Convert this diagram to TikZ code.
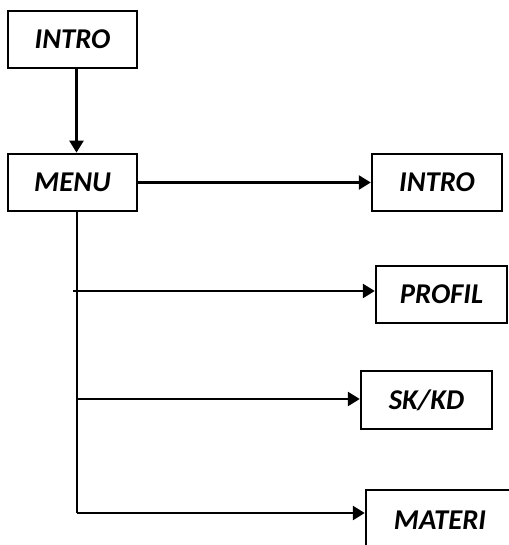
\documentclass[tikz,border=0pt]{standalone}
\usepackage{fontspec}
\setmainfont{Carlito}
\usetikzlibrary{arrows.meta,positioning}
\tikzset{
>={Triangle[length=9pt,width=10.5pt]},
  menubox/.style={
    rectangle,
    draw=black, line width=1.8pt,
    minimum width=#1,
    minimum height=43pt,
    inner sep=0pt,
    text centered,
    font=\fontsize{21.5}{25}\selectfont\bfseries\itshape},
  line/.style={draw, line width=1.9pt, ->}
}

\begin{document}
\begin{tikzpicture}[x=0.75pt,y=-0.75pt]
    \useasboundingbox (0,0) rectangle (508,545);

    \node[menubox=96.75pt] (intro) at (72.5,39.5) {INTRO};
    \node[menubox=96.75pt] (menu) at (72.5,182.5) {MENU};

    \node[menubox=97.5pt] (intro2) at (437,182.5) {INTRO};
    \node[menubox=98.25pt] (profil) at (441.5,294.5) {PROFIL};
    \node[menubox=98.25pt, minimum height=43.5pt] (skkd) at (426.5,400) {SK/KD};
    \node[menubox=111pt, minimum height=45pt] (materi) at (440,520) {MATERI};

    \coordinate (trunk) at (77,513);
    \coordinate (b1) at (73,291);
    \coordinate (b2) at (77,399);

    \draw[line] ([xshift=3pt]intro.south) -- ([xshift=3pt]menu.north);
    \draw[line] (menu.east) -- (intro2.west);

    % cabang ke bawah
    \draw[line width=1.9pt] (menu.south -| trunk) -- (trunk);
    \draw[line] (b1) -- (b1 -| profil.west);
    \draw[line] (b2) -- (b2 -| skkd.west);
    \draw[line] (trunk) -- (trunk -| materi.west);
\end{tikzpicture}
\end{document}
